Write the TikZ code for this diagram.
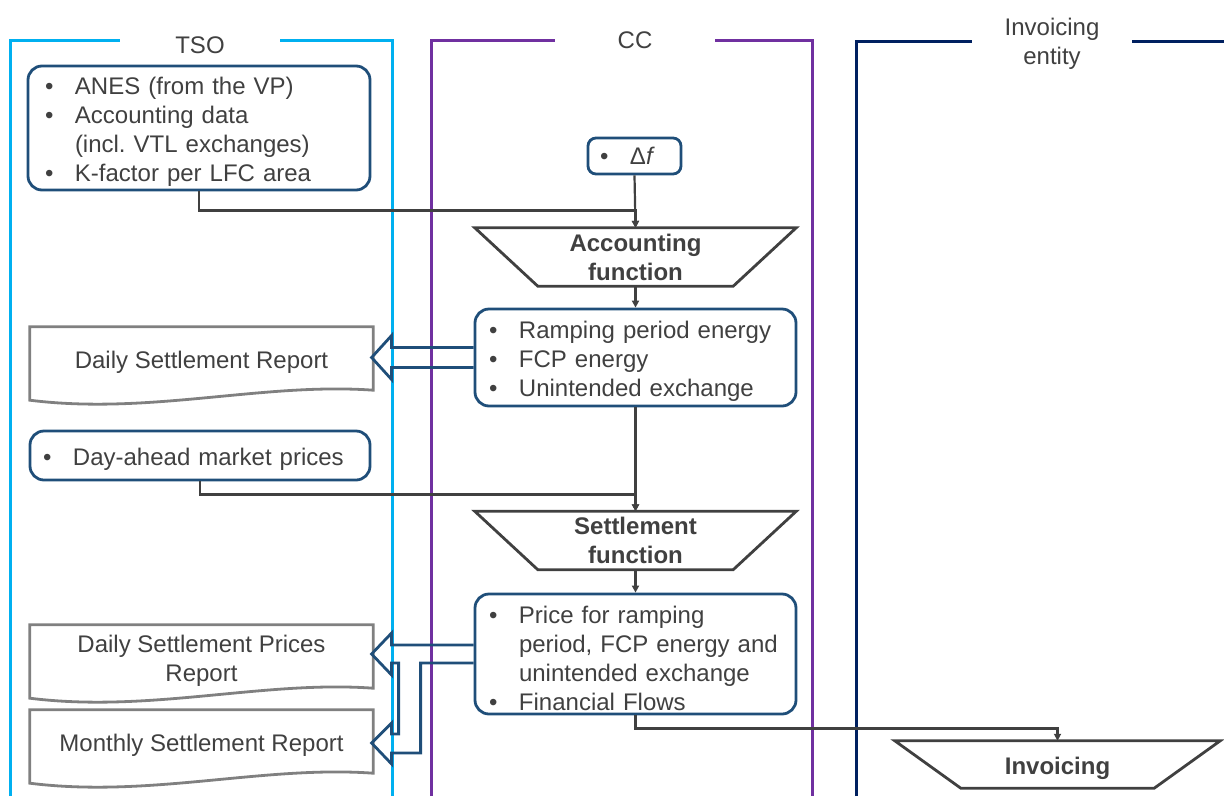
\documentclass[tikz,border=0pt]{standalone}
\usepackage{fontspec}
\setmainfont{Liberation Sans}
\usetikzlibrary{arrows.meta}
\frenchspacing

\definecolor{tsocyan}{HTML}{00B0F0}
\definecolor{ccpurple}{HTML}{7030A0}
\definecolor{invnavy}{HTML}{002060}
\definecolor{boxblue}{HTML}{1F4E79}
\definecolor{textgray}{HTML}{404040}
\definecolor{flowgray}{HTML}{404040}
\definecolor{docgray}{HTML}{808080}

\newcommand{\bodysize}{\fontsize{24}{29}\selectfont}
\newcommand{\firststrut}{\rule{0pt}{25.5pt}}
\newcommand{\bul}{\makebox[30pt][l]{\textbullet}}
\newcommand{\bulgap}{\hspace*{30pt}}
% inverted trapezium round a function node
\newcommand{\functrap}[2]{\draw[funcshape] (#1.north west) -- (#1.north east) -- ([xshift=-#2pt]#1.south east) -- ([xshift=#2pt]#1.south west) -- cycle;}
% document outline with wavy bottom
\newcommand{\docwave}[1]{\draw[docshape] (#1.south east) -- (#1.north east) -- (#1.north west) -- ([yshift=-10pt]#1.south west) .. controls ([xshift=120pt,yshift=-25pt]#1.south west) and ([xshift=-110pt,yshift=8pt]#1.south east) .. (#1.south east) -- cycle;}

\tikzset{
  lane/.style={line width=3pt},
  lanetitle/.style={fill=white, minimum width=160pt, text=textgray, font=\bodysize, align=center, inner sep=0pt},
  infobox/.style={draw=boxblue, line width=2.8pt, rounded corners=14pt, align=left, text=textgray, font=\bodysize, inner ysep=3pt},
  funcnode/.style={minimum width=321pt, minimum height=58pt, inner sep=0pt, align=center, text=textgray, font=\bodysize\bfseries},
  funcshape/.style={draw=flowgray, line width=2.8pt},
  docnode/.style={minimum width=343pt, minimum height=63pt, inner sep=0pt, align=center, text=textgray, font=\bodysize},
  docshape/.style={draw=docgray, line width=2.8pt},
  flow/.style={draw=flowgray, line width=2.2pt, -{Triangle[length=7pt,width=7pt]}},
  blockarrow/.style={draw=boxblue, line width=2.8pt, line join=miter}
}

\begin{document}
\begin{tikzpicture}[x=1pt,y=-1pt]
\useasboundingbox (0,0) rectangle (1224,796);

% swimlanes
\draw[lane, tsocyan] (10,796) -- (10,40) -- (392,40) -- (392,796);
\draw[lane, ccpurple] (431,796) -- (431,40) -- (812,40) -- (812,796);
\draw[lane, invnavy] (856,796) -- (856,41) -- (1224,41);
\node[lanetitle] (tso) at (200,45) {TSO};
\node[lanetitle] (cc) at (635,40) {CC};
\node[lanetitle] (inve) at (1052,44) {Invoicing\\entity};

% TSO inputs
\node[infobox, text width=308pt, inner xsep=17pt, minimum height=124pt] (anes) at (199,128)
  {\firststrut\bul ANES (from the VP)\\\bul Accounting data\\\bulgap (incl. VTL exchanges)\\\bul K-factor per LFC area};
\node[infobox, text width=314pt, inner xsep=13pt, minimum height=49pt] (dap) at (200,455.5)
  {\firststrut\bul Day-ahead market prices};

% CC chain
\node[infobox, text width=69pt, inner xsep=12pt, minimum height=36pt, rounded corners=8pt] (df) at (634.5,156)
  {\bul Δ\textit{f}};
\node[funcnode] (acc) at (635.5,257) {Accounting\\function};
\functrap{acc}{63}
\node[infobox, text width=293pt, inner xsep=14pt, minimum height=97pt] (ramp) at (635.5,357.5)
  {\firststrut\bul Ramping period energy\\\bul FCP energy\\\bul Unintended exchange};
\node[funcnode] (set) at (635.5,540.5) {Settlement\\function};
\functrap{set}{63}
\node[infobox, text width=293pt, inner xsep=14pt, minimum height=120pt] (price) at (635.5,654)
  {\firststrut\bul Price for ramping\\\bulgap period, FCP energy and\\\bulgap unintended exchange\\\bul Financial Flows};

% invoicing
\node[funcnode, minimum width=325pt, minimum height=47pt] (inv) at (1057.5,764.5) {\firststrut Invoicing};
\functrap{inv}{66}

% reports
\node[docnode] (dsr) at (201.5,358.5) {\firststrut Daily Settlement Report};
\docwave{dsr}
\node[docnode] (dspr) at (201.5,656.5) {\firststrut Daily Settlement Prices\\Report};
\docwave{dspr}
\node[docnode] (msr) at (201.5,741.5) {\firststrut Monthly Settlement Report};
\docwave{msr}

% connectors
\draw[flow] (anes.south) |- ++(0,19) -| (acc.north);
\draw[flow] (df.south) -- (acc.north);
\draw[flow] (acc.south) -- (ramp.north);
\draw[flow] (ramp.south) -- (set.north);
\draw[flow] (dap.south) |- ++(0,13) -| (set.north);
\draw[flow] (set.south) -- (price.north);
\draw[flow] (price.south) |- ++(0,13) -| (inv.north);

% block arrows to reports
\draw[blockarrow] ([yshift=10pt]ramp.west) -- ++(-82,0) -- ++(0,-12) -- ++(-20,22)
  -- ++(20,22) -- ++(0,-12) -- ([yshift=-10pt]ramp.west);
\draw[blockarrow] ([yshift=9pt]price.west) -- ++(-82,0) -- ++(0,-12) -- ++(-20,21)
  -- ++(20,21) -- ++(0,-12) -- ++(7,0) -- ++(0,71) -- ++(-7,0) -- ++(0,-11)
  -- ++(-20,20) -- ++(20,21) -- ++(0,-11) -- ++(29,0) -- ++(0,-90) -- ([yshift=-9pt]price.west);
\end{tikzpicture}
\end{document}
